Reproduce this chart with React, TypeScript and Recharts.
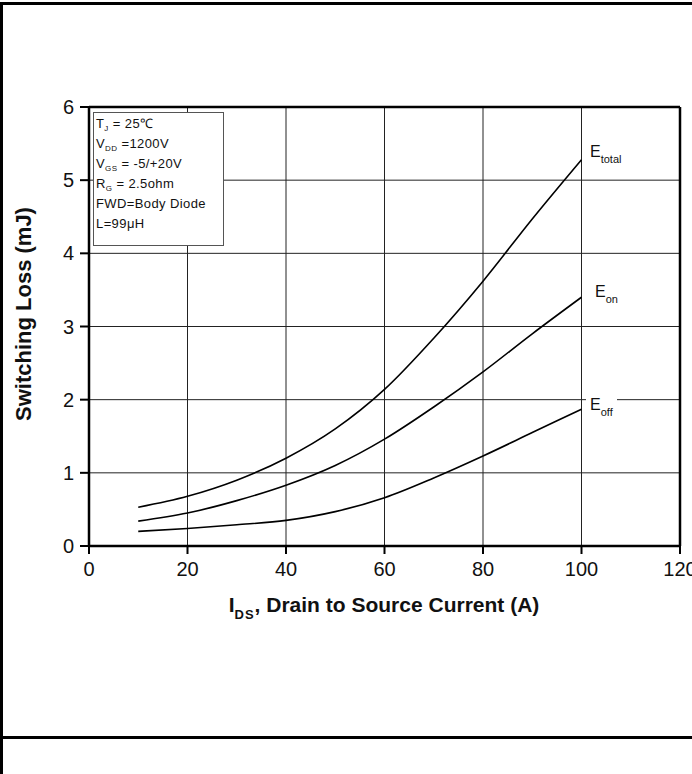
import React from 'react';
import { LineChart, Line, XAxis, YAxis, CartesianGrid, ReferenceLine } from 'recharts';

// drain current (A) and switching energies (mJ)
const currents = [10, 20, 30, 40, 50, 60, 70, 80, 90, 100];
const eTotal = [0.53, 0.68, 0.9, 1.2, 1.6, 2.14, 2.84, 3.62, 4.47, 5.28];
const eOn = [0.34, 0.45, 0.62, 0.83, 1.1, 1.46, 1.9, 2.38, 2.9, 3.4];
const eOff = [0.2, 0.24, 0.29, 0.35, 0.47, 0.66, 0.93, 1.23, 1.55, 1.87];

const xTicks = [0, 20, 40, 60, 80, 100, 120];
const yTicks = [0, 1, 2, 3, 4, 5, 6];

const conditions: [string, string, string][] = [
  ['T', 'J', ' = 25℃'],
  ['V', 'DD', ' =1200V'],
  ['V', 'GS', ' = -5/+20V'],
  ['R', 'G', ' = 2.5ohm'],
  ['FWD=Body Diode', '', ''],
  ['L=99μH', '', ''],
];

const data = currents.map((c, i) => ({ c, total: eTotal[i], on: eOn[i], off: eOff[i] }));

const FONT = '"Liberation Sans", Arial, sans-serif';
const tickStyle = { fontSize: 20, fill: '#111', fontFamily: FONT };

const CurveLabel = ({ x, y, main, sub, bg }: { x: number; y: number; main: string; sub: string; bg?: boolean }) => (
  <div
    style={{
      position: 'absolute', left: x, top: y, fontFamily: FONT, fontSize: 16, color: '#111',
      background: bg ? '#fff' : 'transparent', padding: bg ? '0 4px' : 0, lineHeight: '18px',
    }}
  >
    {main}
    <span style={{ fontSize: 11, position: 'relative', top: 6, lineHeight: '11px' }}>{sub}</span>
  </div>
);

export default function App() {
  return (
    <div style={{ position: 'absolute', left: 0, top: 0, width: 692, height: 774, background: '#fff', overflow: 'hidden' }}>
      {/* page frame */}
      <div style={{ position: 'absolute', left: 0, top: 2, width: 692, height: 3, background: '#000' }} />
      <div style={{ position: 'absolute', left: 0, top: 2, width: 3, height: 772, background: '#000' }} />
      <div style={{ position: 'absolute', left: 0, top: 736, width: 692, height: 3, background: '#000' }} />

      <LineChart width={692} height={774} data={data} margin={{ top: 107, right: 12, bottom: 188, left: 49 }}
        style={{ position: 'absolute', left: 0, top: 0 }}>
        <CartesianGrid stroke="#222" strokeWidth={1} />
        <XAxis dataKey="c" type="number" domain={[0, 120]} ticks={xTicks} interval={0}
          axisLine={{ stroke: '#000', strokeWidth: 2.5 }} tickLine={{ stroke: '#000', strokeWidth: 2 }}
          tickSize={8} tickMargin={8} tick={tickStyle} height={40} />
        <YAxis type="number" domain={[0, 6]} ticks={yTicks} interval={0}
          axisLine={{ stroke: '#000', strokeWidth: 2.5 }} tickLine={{ stroke: '#000', strokeWidth: 2 }}
          tickSize={9} tickMargin={6} tick={tickStyle} width={40} />
        <ReferenceLine y={6} stroke="#000" strokeWidth={2.5} />
        <ReferenceLine x={120} stroke="#000" strokeWidth={2.5} />
        <Line type="monotone" dataKey="total" stroke="#000" strokeWidth={1.6} dot={false} isAnimationActive={false} />
        <Line type="monotone" dataKey="on" stroke="#000" strokeWidth={1.6} dot={false} isAnimationActive={false} />
        <Line type="monotone" dataKey="off" stroke="#000" strokeWidth={1.6} dot={false} isAnimationActive={false} />
      </LineChart>

      {/* test conditions box */}
      <div style={{
        position: 'absolute', left: 93, top: 112, width: 131, height: 134, background: '#fff',
        border: '1px solid #555', fontFamily: FONT, fontSize: 13, color: '#111', letterSpacing: 0.4,
        lineHeight: '20px', paddingLeft: 2, paddingTop: 1, boxSizing: 'border-box',
      }}>
        {conditions.map(([a, s, b], i) => (
          <div key={i} style={{ height: 20 }}>
            {a}
            {s && <span style={{ fontSize: 8, position: 'relative', top: 3, lineHeight: '8px' }}>{s}</span>}
            {b}
          </div>
        ))}
      </div>

      <CurveLabel x={590} y={143} main="E" sub="total" />
      <CurveLabel x={595} y={283} main="E" sub="on" />
      <CurveLabel x={586} y={396} main="E" sub="off" bg />

      {/* axis titles */}
      <div style={{
        position: 'absolute', left: 384, top: 593, transform: 'translateX(-50%)', whiteSpace: 'nowrap',
        fontFamily: FONT, fontSize: 21, fontWeight: 'bold', color: '#111',
      }}>
        I<span style={{ fontSize: 13, position: 'relative', top: 7, letterSpacing: 1 }}>DS</span>, Drain to Source Current (A)
      </div>
      <div style={{
        position: 'absolute', left: 24, top: 314, transform: 'translate(-50%, -50%) rotate(-90deg)', whiteSpace: 'nowrap',
        fontFamily: FONT, fontSize: 22, fontWeight: 'bold', color: '#111',
      }}>
        Switching Loss (mJ)
      </div>
    </div>
  );
}
